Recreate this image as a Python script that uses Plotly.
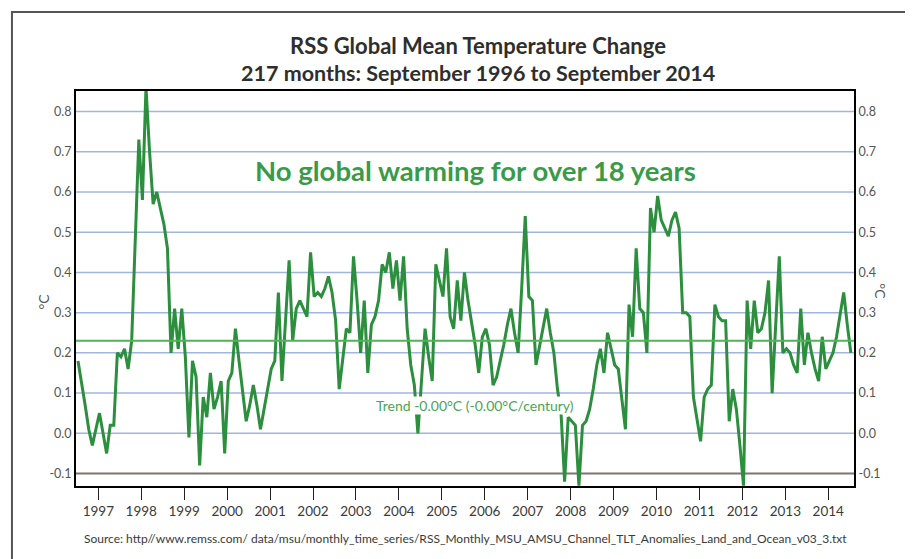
import plotly.graph_objects as go

# ---- data ----
start_year = 1996
start_month = 9  # September 1996
anomaly = [
    0.18, 0.13, 0.07, 0.01, -0.03, 0.01, 0.05, 0.00, -0.05, 0.02,
    0.02, 0.20, 0.19, 0.21, 0.16, 0.23, 0.50, 0.73, 0.58, 0.86,
    0.70, 0.57, 0.60, 0.56, 0.52, 0.46, 0.20, 0.31, 0.21, 0.31,
    0.19, -0.01, 0.18, 0.14, -0.08, 0.09, 0.04, 0.15, 0.06, 0.09,
    0.13, -0.05, 0.13, 0.15, 0.26, 0.18, 0.10, 0.03, 0.07, 0.12,
    0.07, 0.01, 0.06, 0.11, 0.16, 0.18, 0.35, 0.13, 0.28, 0.43,
    0.23, 0.31, 0.33, 0.31, 0.29, 0.45, 0.34, 0.35, 0.34, 0.36,
    0.39, 0.35, 0.28, 0.11, 0.19, 0.26, 0.25, 0.44, 0.33, 0.20,
    0.33, 0.15, 0.27, 0.29, 0.33, 0.42, 0.40, 0.45, 0.36, 0.43,
    0.33, 0.44, 0.26, 0.17, 0.12, 0.00, 0.13, 0.26, 0.19, 0.13,
    0.42, 0.38, 0.34, 0.46, 0.29, 0.26, 0.38, 0.28, 0.40, 0.33,
    0.28, 0.22, 0.15, 0.24, 0.26, 0.22, 0.12, 0.14, 0.18, 0.22,
    0.27, 0.31, 0.25, 0.20, 0.36, 0.54, 0.34, 0.33, 0.17, 0.22,
    0.27, 0.31, 0.25, 0.20, 0.11, 0.05, -0.12, 0.04, 0.03, 0.02,
    -0.13, 0.02, 0.03, 0.06, 0.11, 0.17, 0.21, 0.15, 0.25, 0.21,
    0.17, 0.16, 0.09, 0.01, 0.32, 0.24, 0.46, 0.31, 0.30, 0.20,
    0.56, 0.50, 0.59, 0.53, 0.51, 0.49, 0.53, 0.55, 0.51, 0.30,
    0.30, 0.29, 0.09, 0.03, -0.02, 0.09, 0.11, 0.12, 0.32, 0.29,
    0.28, 0.28, 0.03, 0.11, 0.06, -0.03, -0.13, 0.33, 0.21, 0.33,
    0.25, 0.26, 0.30, 0.38, 0.10, 0.27, 0.44, 0.20, 0.21, 0.20,
    0.17, 0.15, 0.31, 0.17, 0.25, 0.20, 0.16, 0.13, 0.24, 0.16,
    0.18, 0.20, 0.24, 0.29, 0.35, 0.27, 0.20,
]
trend_value = 0.23
year_labels = list(range(1997, 2015))
y_ticks = [0.8, 0.7, 0.6, 0.5, 0.4, 0.3, 0.2, 0.1, 0.0, -0.1]

title1 = "RSS Global Mean Temperature Change"
title2 = "217 months: September 1996 to September 2014"
headline = "No global warming for over 18 years"
trend_text = "Trend -0.00\u00b0C (-0.00\u00b0C/century)"
source_text = ("Source: http//www.remss.com/ data/msu/monthly_time_series/"
               "RSS_Monthly_MSU_AMSU_Channel_TLT_Anomalies_Land_and_Ocean_v03_3.txt")

# ---- derived ----
x = [start_year + (start_month - 1) / 12 + i / 12 for i in range(len(anomaly))]
tick_pos = [y + 0.14 for y in year_labels]
tick_txt = [str(y) for y in year_labels]
y_txt = [f"{v:.1f}" for v in y_ticks]

FONT = "Lato, 'Open Sans', 'Liberation Sans', sans-serif"
GREEN = "#2b8f3e"
TREND_GREEN = "#52b258"
GRID = "#a3b5dc"
TXT = "#3a3a3a"
yr = [-0.131, 0.851]

fig = go.Figure()
fig.add_trace(go.Scatter(x=x, y=anomaly, mode="lines",
                         line=dict(color=GREEN, width=3), hoverinfo="skip",
                         showlegend=False))
fig.add_trace(go.Scatter(x=[x[0], x[-1]], y=[trend_value, trend_value], mode="lines",
                         line=dict(color="rgba(0,0,0,0)", width=0), yaxis="y2",
                         showlegend=False, hoverinfo="skip"))

fig.update_layout(
    width=913, height=559,
    margin=dict(l=68, r=67, t=83, b=81),
    paper_bgcolor="white", plot_bgcolor="white",
    font=dict(family=FONT, color=TXT),
    xaxis=dict(range=[1996.62, 2014.74], tickvals=tick_pos, ticktext=tick_txt,
               ticks="outside", ticklen=12, tickcolor="#222", tickwidth=1,
               showgrid=False, zeroline=False, showline=True, linecolor="black",
               linewidth=2, mirror=True, tickfont=dict(size=13.5, color=TXT)),
    yaxis=dict(range=yr, tickvals=y_ticks, ticktext=y_txt, showgrid=False,
               zeroline=False, showline=True,
               linecolor="black", linewidth=2, ticks="", ticklen=0,
               tickfont=dict(size=12.5, color="#555")),
    yaxis2=dict(range=yr, tickvals=y_ticks, ticktext=y_txt, overlaying="y",
                side="right", showgrid=False, zeroline=False, showline=True,
                linecolor="black", linewidth=2, ticks="",
                tickfont=dict(size=12.5, color="#555")),
)

# gridlines
for v in y_ticks:
    col = "#7d7470" if v < 0 else GRID
    fig.add_shape(type="line", xref="paper", x0=0, x1=1, yref="y", y0=v, y1=v,
                  line=dict(color=col, width=2 if v < 0 else 1.5), layer="below")
# trend line
fig.add_shape(type="line", xref="paper", x0=0, x1=1, yref="y", y0=trend_value, y1=trend_value,
              line=dict(color=TREND_GREEN, width=2))
# outer frame
fig.add_shape(type="rect", xref="paper", yref="paper",
              x0=-0.0823, x1=1.0797, y0=-0.2, y1=1.2,
              line=dict(color="#555", width=2))

ann = [
    dict(text=title1, x=0.517, y=1.114, size=22, bold=True, color="#2e2e2e", bg=None),
    dict(text=title2, x=0.517, y=1.046, size=21.5, bold=True, color="#2e2e2e", bg=None),
    dict(text=headline, x=0.514, y=0.80, size=27.5, bold=True, color="#3a9a48", bg=None),
    dict(text=trend_text, x=0.513, y=0.205, size=14, bold=False, color="#4aa554", bg="white"),
    dict(text=source_text, x=0.501, y=-0.132, size=12, bold=False, color=TXT, bg=None),
]
for a in ann:
    t = f"<b>{a['text']}</b>" if a["bold"] else a["text"]
    kw = dict(bgcolor=a["bg"]) if a["bg"] else {}
    fig.add_annotation(text=t, xref="paper", yref="paper", x=a["x"], y=a["y"],
                       xanchor="center", yanchor="middle", showarrow=False,
                       borderpad=0,
                       font=dict(family=FONT, size=a["size"], color=a["color"]), **kw)

fig.add_annotation(text="\u00b0C", xref="paper", yref="paper", x=-0.0553, y=0.468,
                   textangle=-90, showarrow=False, font=dict(family=FONT, size=14, color="#555"))
fig.add_annotation(text="\u00b0C", xref="paper", yref="paper", x=1.0476, y=0.494,
                   textangle=90, showarrow=False, font=dict(family=FONT, size=14, color="#555"))

fig.write_html("out.html")
